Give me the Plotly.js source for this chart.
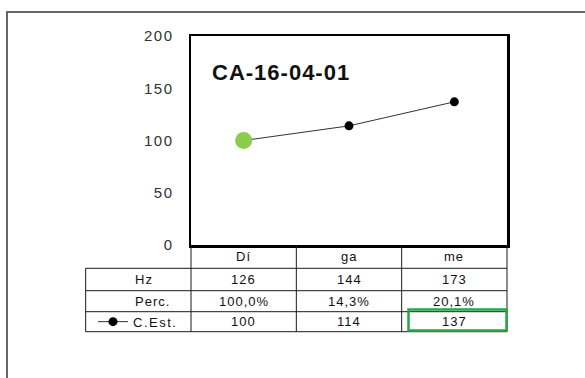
<!DOCTYPE html>
<html>
<head>
<meta charset="utf-8">
<script src="https://cdn.plot.ly/plotly-3.0.1.min.js"></script>
<style>
  html, body { margin: 0; padding: 0; background: #fff; }
  #chart { width: 585px; height: 378px; }
  .ytick text { letter-spacing: 1.5px; }
  .annotation-text { letter-spacing: 1px; }
  .legendtext { letter-spacing: 1.5px; }
</style>
</head>
<body>
<div id="chart"></div>
<script>
// ---- data ----
const chartTitle = "CA-16-04-01";
const categories = ["Dí", "ga", "me"];
const hzValues = [126, 144, 173];
const percValues = ["100,0%", "14,3%", "20,1%"];
const cEstValues = [100, 114, 137];
const rowLabels = ["Hz", "Perc."];
const seriesName = "C.Est.";
const yTicks = [0, 50, 100, 150, 200];

// ---- layout helpers (pixel -> paper) ----
const W = 585, H = 378;
const L = 191, R = 507, T = 36, B = 245;
const px = x => (x - L) / (R - L);
const py = y => (B - y) / (B - T);

const n = categories.length;
const colEdges = [];
for (let i = 0; i <= n; i++) colEdges.push(i / n);
const labelLeft = -1 / n;
const rowEdges = [py(245), py(268.3), py(290.7), py(311.7), py(331.7)];
const rowCenter = i => (rowEdges[i] + rowEdges[i + 1]) / 2;

const lineStyle = { color: "#1a1a1a", width: 1 };
const shapes = [];
// outer frame (top + left)
shapes.push({ type: "rect", xref: "paper", yref: "paper", x0: px(7), x1: px(620), y0: py(12), y1: py(420),
  line: { color: "#666", width: 2 }, fillcolor: "rgba(0,0,0,0)", layer: "below" });
// table verticals
colEdges.forEach(x => shapes.push({ type: "line", xref: "paper", yref: "paper", x0: x, x1: x, y0: rowEdges[0], y1: rowEdges[4], line: lineStyle }));
shapes.push({ type: "line", xref: "paper", yref: "paper", x0: labelLeft, x1: labelLeft, y0: rowEdges[1], y1: rowEdges[4], line: lineStyle });
// table horizontals
for (let r = 1; r <= 4; r++) {
  shapes.push({ type: "line", xref: "paper", yref: "paper", x0: labelLeft, x1: 1, y0: rowEdges[r], y1: rowEdges[r], line: lineStyle });
}
// green highlight box on last C.Est. cell
shapes.push({ type: "rect", xref: "paper", yref: "paper", x0: px(408.5), x1: px(506.5), y0: py(309.5), y1: py(330.5),
  line: { color: "#22a845", width: 2.5 }, fillcolor: "rgba(0,0,0,0)" });

const cellFont = { family: "Liberation Sans, Arial, sans-serif", size: 13, color: "#111" };
const annotations = [];
const rows = [categories, hzValues, percValues, cEstValues];
rows.forEach((vals, r) => {
  vals.forEach((v, i) => {
    annotations.push({ xref: "x", yref: "paper", x: categories[i], y: rowCenter(r), text: String(v),
      showarrow: false, font: cellFont, xanchor: "center", yanchor: "middle" });
  });
});
rowLabels.forEach((lab, k) => {
  annotations.push({ xref: "paper", yref: "paper", x: px(133), y: rowCenter(k + 1), text: lab,
    showarrow: false, font: cellFont, xanchor: "left", yanchor: "middle" });
});
annotations.push({ xref: "paper", yref: "paper", x: px(210), y: py(72.5), text: chartTitle, showarrow: false,
  font: { family: "Liberation Sans, Arial, sans-serif", size: 22, color: "#111", weight: "bold" },
  xanchor: "left", yanchor: "middle" });

const traces = [
  { type: "scatter", mode: "lines+markers", name: seriesName, x: categories, y: cEstValues,
    line: { color: "#333", width: 1 }, marker: { color: "#000", size: 9 }, cliponaxis: false },
  { type: "scatter", mode: "markers", showlegend: false, x: [categories[0]], y: [cEstValues[0]],
    marker: { color: "#8dcb4a", size: 17 }, cliponaxis: false, hoverinfo: "skip" }
];

const layout = {
  width: W, height: H,
  margin: { l: L, r: W - R, t: T, b: H - B, autoexpand: false },
  paper_bgcolor: "#fff", plot_bgcolor: "#fff",
  font: { family: "Liberation Sans, Arial, sans-serif", size: 14, color: "#333" },
  showlegend: true,
  legend: { x: px(93), y: rowCenter(3), xanchor: "left", yanchor: "middle", bgcolor: "rgba(0,0,0,0)",
    borderwidth: 0, font: cellFont },
  xaxis: { type: "category", range: [-0.5, n - 0.5], showticklabels: false, ticks: "", showgrid: false,
    zeroline: false, showline: true, mirror: true, linecolor: "#000", linewidth: 2.5 },
  yaxis: { range: [0, 200], tickvals: yTicks, ticks: "", showgrid: false, zeroline: false,
    showline: true, mirror: true, linecolor: "#000", linewidth: 2.5, ticklabelstandoff: 12,
    tickfont: { size: 15, color: "#333" } },
  shapes: shapes,
  annotations: annotations
};

Plotly.newPlot("chart", traces, layout, { displayModeBar: false, staticPlot: true });
</script>
</body>
</html>
